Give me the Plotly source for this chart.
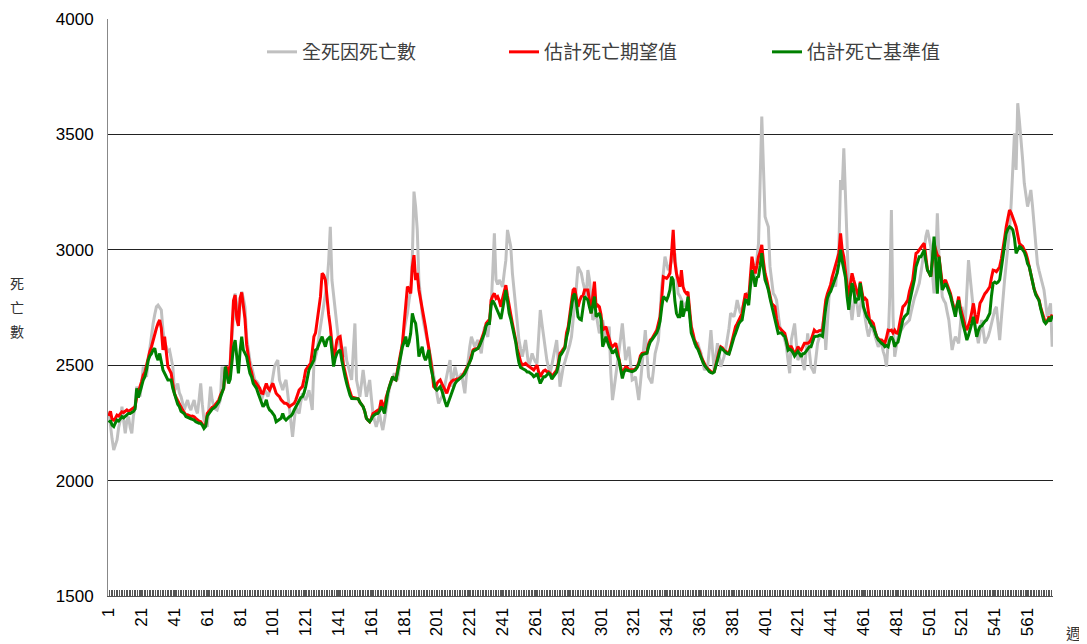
import plotly.graph_objects as go

# ---------------- data ----------------
all_cause = [
    2300, 2233, 2180, 2132, 2150, 2176, 2230, 2262, 2320, 2250,
    2205, 2260, 2277, 2230, 2205, 2280, 2320, 2407, 2380, 2364,
    2420, 2494, 2470, 2450, 2520, 2580, 2620, 2681, 2720, 2753,
    2760, 2750, 2739, 2652, 2600, 2580, 2560, 2566, 2520, 2494,
    2392, 2400, 2421, 2380, 2364, 2330, 2306, 2330, 2349, 2320,
    2306, 2330, 2349, 2310, 2291, 2350, 2421, 2330, 2262, 2250,
    2233, 2320, 2407, 2350, 2320, 2310, 2306, 2330, 2349, 2494,
    2470, 2465, 2450, 2436, 2520, 2609, 2700, 2811, 2760, 2681,
    2760, 2819, 2790, 2753, 2620, 2566, 2520, 2494, 2460, 2436,
    2430, 2421, 2380, 2349, 2370, 2392, 2380, 2364, 2390, 2407,
    2450, 2494, 2510, 2522, 2436, 2410, 2392, 2420, 2436, 2380,
    2320, 2250, 2190, 2260, 2320, 2300, 2291, 2340, 2378, 2360,
    2349, 2370, 2392, 2350, 2306, 2508, 2540, 2566, 2620, 2667,
    2710, 2753, 2800, 2855, 2950, 3100, 2869, 2800, 2753, 2680,
    2609, 2580, 2560, 2537, 2580, 2520, 2494, 2460, 2436, 2560,
    2681, 2436, 2400, 2363, 2420, 2479, 2420, 2363, 2400, 2436,
    2360, 2291, 2260, 2233, 2260, 2291, 2250, 2219, 2260, 2306,
    2360, 2400, 2421, 2440, 2465, 2450, 2436, 2490, 2551, 2600,
    2652, 2690, 2724, 2780, 2826, 2970, 3252, 3187, 3086, 2869,
    2790, 2724, 2680, 2638, 2610, 2580, 2540, 2493, 2450, 2407,
    2370, 2334, 2350, 2365, 2378, 2420, 2465, 2490, 2522, 2407,
    2450, 2493, 2460, 2436, 2450, 2465, 2420, 2378, 2460, 2537,
    2580, 2623, 2600, 2580, 2595, 2609, 2580, 2551, 2610, 2667,
    2640, 2623, 2690, 2753, 2900, 3071, 2869, 2850, 2869, 2855,
    2840, 2900, 2955, 3086, 3050, 3013, 2898, 2820, 2753, 2680,
    2609, 2570, 2537, 2570, 2609, 2550, 2493, 2520, 2551, 2530,
    2515, 2508, 2620, 2739, 2680, 2623, 2570, 2522, 2490, 2465,
    2500, 2537, 2570, 2609, 2510, 2407, 2450, 2493, 2515, 2537,
    2560, 2590, 2623, 2690, 2753, 2840, 2927, 2910, 2898, 2860,
    2826, 2800, 2912, 2869, 2780, 2696, 2710, 2725, 2680, 2638,
    2670, 2696, 2650, 2609, 2640, 2667, 2465, 2349, 2400, 2450,
    2500, 2551, 2620, 2681, 2600, 2522, 2550, 2580, 2510, 2436,
    2440, 2450, 2400, 2349, 2420, 2493, 2570, 2652, 2550, 2450,
    2435, 2421, 2480, 2551, 2580, 2609, 2720, 2840, 2900, 2970,
    2940, 2912, 2930, 2955, 2970, 2985, 2900, 2811, 2800, 2782,
    2765, 2753, 2770, 2782, 2720, 2667, 2630, 2595, 2595, 2595,
    2570, 2551, 2515, 2479, 2486, 2493, 2570, 2652, 2560, 2479,
    2540, 2595, 2540, 2493, 2515, 2537, 2570, 2609, 2660, 2725,
    2718, 2710, 2740, 2782, 2750, 2725, 2745, 2768, 2790, 2811,
    2811, 2840, 2869, 2880, 2898, 2960, 3028, 3300, 3577, 3360,
    3143, 3120, 3100, 2927, 2870, 2811, 2800, 2782, 2720, 2667,
    2650, 2638, 2610, 2580, 2520, 2465, 2609, 2650, 2681, 2600,
    2522, 2540, 2551, 2510, 2479, 2560, 2638, 2560, 2493, 2480,
    2465, 2530, 2595, 2620, 2638, 2670, 2710, 2566, 2700, 2797,
    2840, 2884, 2860, 2840, 2930, 3014, 3302, 3259, 3440, 3230,
    3000, 2826, 2760, 2696, 2760, 2826, 2770, 2710, 2750, 2797,
    2750, 2696, 2660, 2624, 2650, 2681, 2650, 2624, 2600, 2580,
    2590, 2595, 2560, 2537, 2493, 2595, 2800, 3172, 2710, 2537,
    2580, 2624, 2640, 2652, 2665, 2675, 2681, 2690, 2696, 2730,
    2768, 2790, 2811, 2830, 2855, 2900, 2941, 3000, 3057, 3086,
    3050, 3014, 2900, 2811, 2950, 3158, 2970, 2880, 2797, 2780,
    2768, 2730, 2696, 2630, 2566, 2600, 2624, 2610, 2595, 2670,
    2753, 2720, 2681, 2820, 2955, 2880, 2797, 2740, 2681, 2640,
    2595, 2640, 2696, 2650, 2595, 2610, 2624, 2650, 2681, 2710,
    2740, 2753, 2680, 2609, 2700, 2797, 2870, 2941, 3000, 3086,
    3200, 3331, 3505, 3346, 3635, 3560, 3490, 3390, 3288, 3230,
    3187, 3220, 3259, 3190, 3115, 3020, 2941, 2910, 2883, 2850,
    2826, 2770, 2710, 2740, 2768, 2580,
]

expected = [
    2280, 2300, 2265, 2262, 2270, 2284, 2280, 2290, 2298, 2295,
    2300, 2306, 2300, 2306, 2310, 2315, 2320, 2360, 2390, 2407,
    2430, 2457, 2470, 2500, 2537, 2560, 2580, 2609, 2640, 2660,
    2681, 2696, 2660, 2566, 2624, 2560, 2494, 2480, 2465, 2420,
    2378, 2360, 2345, 2335, 2320, 2305, 2295, 2284, 2285, 2280,
    2278, 2280, 2277, 2270, 2262, 2258, 2255, 2245, 2234, 2240,
    2291, 2300, 2310, 2318, 2320, 2330, 2340, 2349, 2370, 2385,
    2400, 2480, 2494, 2440, 2500, 2650, 2780, 2804, 2700, 2670,
    2790, 2815, 2760, 2700, 2590, 2540, 2494, 2470, 2436, 2430,
    2420, 2407, 2400, 2380, 2378, 2400, 2421, 2400, 2392, 2410,
    2421, 2400, 2378, 2370, 2364, 2350, 2340, 2335, 2335, 2330,
    2320, 2325, 2330, 2335, 2350, 2370, 2392, 2400, 2407, 2440,
    2479, 2490, 2500, 2508, 2560, 2624, 2640, 2700, 2760, 2797,
    2898, 2890, 2869, 2782, 2720, 2667, 2600, 2522, 2560, 2609,
    2620, 2624, 2570, 2500, 2470, 2430, 2407, 2385, 2363, 2360,
    2358, 2356, 2355, 2340, 2330, 2320, 2300, 2270, 2262, 2255,
    2270, 2291, 2295, 2300, 2305, 2310, 2349, 2330, 2310, 2360,
    2390, 2407, 2430, 2450, 2440, 2436, 2480, 2522, 2550, 2595,
    2680, 2753, 2840, 2830, 2811, 2927, 2977, 2869, 2900, 2826,
    2790, 2753, 2710, 2667, 2620, 2580, 2530, 2479, 2407, 2400,
    2421, 2430, 2436, 2420, 2407, 2390, 2378, 2400, 2421, 2430,
    2436, 2436, 2440, 2440, 2445, 2450, 2460, 2472, 2490, 2500,
    2515, 2540, 2566, 2570, 2570, 2573, 2590, 2610, 2624, 2650,
    2681, 2690, 2681, 2782, 2800, 2811, 2790, 2797, 2780, 2753,
    2790, 2826, 2847, 2800, 2753, 2720, 2681, 2650, 2609, 2570,
    2537, 2515, 2500, 2505, 2508, 2500, 2493, 2490, 2485, 2479,
    2490, 2500, 2470, 2450, 2465, 2475, 2479, 2472, 2472, 2465,
    2450, 2460, 2470, 2479, 2510, 2551, 2560, 2570, 2580, 2640,
    2667, 2720, 2780, 2826, 2833, 2800, 2753, 2780, 2797, 2800,
    2826, 2826, 2826, 2780, 2725, 2800, 2862, 2753, 2760, 2753,
    2720, 2652, 2660, 2667, 2640, 2609, 2590, 2580, 2590, 2595,
    2560, 2522, 2490, 2465, 2480, 2493, 2490, 2479, 2480, 2479,
    2480, 2485, 2493, 2510, 2540, 2551, 2552, 2553, 2555, 2590,
    2609, 2615, 2625, 2640, 2652, 2680, 2710, 2790, 2883, 2880,
    2876, 2885, 2898, 2985, 3086, 2950, 2898, 2870, 2840, 2912,
    2840, 2820, 2811, 2818, 2740, 2667, 2640, 2609, 2595, 2580,
    2560, 2537, 2520, 2505, 2493, 2485, 2478, 2472, 2470, 2472,
    2500, 2537, 2560, 2580, 2575, 2565, 2560, 2555, 2551, 2580,
    2609, 2640, 2667, 2680, 2696, 2710, 2725, 2770, 2811, 2800,
    2782, 2880, 2970, 2930, 2898, 2930, 2970, 2990, 3021, 2950,
    2898, 2870, 2840, 2800, 2768, 2760, 2753, 2700, 2667, 2660,
    2652, 2645, 2638, 2610, 2580, 2580, 2580, 2565, 2551, 2560,
    2580, 2570, 2566, 2580, 2595, 2595, 2595, 2600, 2609, 2630,
    2652, 2645, 2645, 2650, 2650, 2652, 2720, 2782, 2810, 2826,
    2850, 2884, 2910, 2930, 2960, 2985, 3071, 3000, 2970, 2900,
    2826, 2782, 2850, 2898, 2870, 2840, 2820, 2797, 2862, 2820,
    2782, 2790, 2782, 2730, 2681, 2690, 2681, 2650, 2624, 2615,
    2610, 2609, 2600, 2595, 2620, 2652, 2650, 2652, 2640, 2652,
    2640, 2638, 2680, 2720, 2753, 2760, 2770, 2782, 2820, 2850,
    2869, 2930, 2985, 2990, 3000, 3014, 3020, 3028, 2970, 2912,
    2900, 2884, 2950, 3028, 3000, 2977, 2970, 2900, 2855, 2860,
    2869, 2850, 2830, 2811, 2780, 2750, 2725, 2760, 2797, 2750,
    2720, 2696, 2670, 2652, 2670, 2696, 2730, 2768, 2720, 2681,
    2720, 2768, 2780, 2797, 2810, 2818, 2830, 2840, 2880, 2912,
    2910, 2905, 2915, 2927, 2960, 2999, 3050, 3100, 3140, 3172,
    3160, 3144, 3120, 3100, 3060, 3028, 3020, 3014, 3000, 2985,
    2960, 2927, 2890, 2855, 2830, 2811, 2795, 2782, 2750, 2725,
    2700, 2681, 2690, 2710, 2700, 2720,
]

baseline = [
    2251, 2260, 2240, 2234, 2250, 2262, 2258, 2270, 2277, 2272,
    2280, 2285, 2291, 2291, 2295, 2300, 2310, 2400, 2360, 2392,
    2410, 2436, 2450, 2480, 2522, 2540, 2550, 2566, 2573, 2540,
    2522, 2551, 2510, 2479, 2465, 2450, 2436, 2436, 2436, 2400,
    2378, 2350, 2330, 2320, 2300, 2295, 2290, 2277, 2275, 2270,
    2268, 2265, 2262, 2255, 2250, 2248, 2248, 2240, 2226, 2235,
    2280, 2291, 2300, 2310, 2315, 2320, 2330, 2340, 2360, 2380,
    2400, 2494, 2460, 2421, 2440, 2520, 2580, 2609, 2537, 2465,
    2560, 2624, 2566, 2550, 2537, 2500, 2465, 2450, 2421, 2410,
    2400, 2378, 2360, 2340, 2320, 2330, 2350, 2320, 2306, 2300,
    2290, 2280, 2255, 2260, 2262, 2270, 2291, 2270, 2262, 2270,
    2277, 2280, 2290, 2306, 2320, 2330, 2349, 2360, 2364, 2380,
    2407, 2450, 2480, 2494, 2510, 2522, 2566, 2570, 2590, 2609,
    2624, 2600, 2580, 2609, 2615, 2624, 2560, 2494, 2530, 2551,
    2560, 2566, 2520, 2480, 2450, 2420, 2392, 2370, 2356, 2355,
    2355, 2356, 2355, 2340, 2330, 2320, 2300, 2270, 2262, 2255,
    2265, 2280, 2285, 2290, 2291, 2300, 2320, 2310, 2291, 2340,
    2380, 2407, 2430, 2450, 2440, 2436, 2470, 2510, 2540, 2580,
    2600, 2624, 2580, 2600, 2638, 2725, 2696, 2681, 2624, 2537,
    2560, 2580, 2540, 2522, 2540, 2566, 2500, 2465, 2420, 2400,
    2392, 2400, 2407, 2390, 2360, 2340, 2320, 2340, 2364, 2380,
    2400, 2420, 2430, 2436, 2440, 2445, 2455, 2465, 2480, 2495,
    2510, 2530, 2560, 2565, 2570, 2573, 2585, 2600, 2620, 2640,
    2670, 2681, 2681, 2760, 2780, 2768, 2750, 2739, 2720, 2700,
    2740, 2790, 2826, 2780, 2725, 2700, 2670, 2640, 2600, 2550,
    2510, 2490, 2486, 2480, 2478, 2470, 2470, 2465, 2460, 2450,
    2455, 2465, 2440, 2421, 2435, 2450, 2450, 2460, 2465, 2460,
    2440, 2450, 2460, 2470, 2500, 2540, 2550, 2560, 2575, 2620,
    2650, 2700, 2760, 2800, 2810, 2770, 2710, 2700, 2696, 2740,
    2797, 2790, 2782, 2750, 2725, 2760, 2797, 2710, 2720, 2725,
    2700, 2580, 2600, 2623, 2600, 2580, 2570, 2551, 2560, 2566,
    2540, 2522, 2480, 2443, 2470, 2480, 2478, 2475, 2474, 2472,
    2475, 2480, 2490, 2505, 2530, 2545, 2548, 2550, 2552, 2580,
    2600, 2610, 2620, 2630, 2640, 2660, 2690, 2750, 2797, 2790,
    2782, 2800, 2826, 2884, 2870, 2780, 2725, 2710, 2710, 2780,
    2710, 2740, 2740, 2797, 2700, 2640, 2620, 2595, 2580, 2570,
    2550, 2530, 2515, 2500, 2490, 2480, 2472, 2468, 2466, 2470,
    2495, 2530, 2555, 2575, 2570, 2560, 2555, 2550, 2548, 2570,
    2600, 2620, 2638, 2660, 2680, 2690, 2696, 2740, 2782, 2780,
    2760, 2840, 2912, 2880, 2840, 2880, 2884, 2930, 2985, 2920,
    2870, 2850, 2826, 2790, 2760, 2730, 2696, 2680, 2638, 2640,
    2640, 2630, 2625, 2600, 2565, 2570, 2565, 2555, 2540, 2550,
    2560, 2550, 2537, 2550, 2551, 2560, 2570, 2580, 2580, 2600,
    2623, 2625, 2625, 2630, 2630, 2625, 2690, 2750, 2790, 2810,
    2820, 2840, 2860, 2884, 2900, 2940, 3000, 2950, 2912, 2880,
    2797, 2740, 2800, 2855, 2830, 2768, 2790, 2782, 2855, 2800,
    2753, 2730, 2710, 2700, 2681, 2670, 2665, 2640, 2624, 2610,
    2600, 2595, 2590, 2580, 2585, 2580, 2610, 2624, 2610, 2580,
    2595, 2600, 2630, 2670, 2696, 2710, 2720, 2725, 2770, 2800,
    2826, 2870, 2926, 2950, 2970, 2970, 2985, 3000, 2950, 2912,
    2900, 2884, 2960, 3057, 2950, 2810, 2970, 2880, 2826, 2840,
    2855, 2840, 2820, 2800, 2770, 2740, 2710, 2760, 2782, 2730,
    2690, 2667, 2640, 2609, 2630, 2652, 2680, 2710, 2670, 2623,
    2650, 2667, 2670, 2681, 2690, 2696, 2710, 2725, 2800, 2855,
    2860, 2855, 2860, 2870, 2920, 2970, 3030, 3071, 3090, 3100,
    3095, 3086, 3050, 2985, 3000, 3014, 3010, 3000, 2990, 2970,
    2940, 2927, 2890, 2855, 2830, 2805, 2790, 2780, 2745, 2720,
    2690, 2681, 2690, 2700, 2690, 2715,
]

weeks = list(range(1, len(expected) + 1))
tick_weeks = list(range(1, 562, 20))
tick_labels = [str(w) for w in tick_weeks]
series_names = ["全死因死亡數", "估計死亡期望值", "估計死亡基準值"]
series_colors = ["#C0C0C0", "#FF0000", "#008000"]

assert len(all_cause) == len(expected) == len(baseline), (
    len(all_cause), len(expected), len(baseline))

# ---------------- layout geometry ----------------
# The page body adds an 8 px margin, so the figure is drawn 8 px in.
OFF = 8
W, H = 1087 - OFF, 644 - OFF
# plot area in reference-picture pixels
L, R, T, B = 108, 1053, 19, 596
pw, ph = R - L, B - T

def px(xpix):
    return (xpix - L) / pw

def py(ypix):
    return 1 - (ypix - T) / ph

# ---------------- figure ----------------
fig = go.Figure()
legend_ids = ["legend", "legend2", "legend3"]
for name, vals, col, lg in zip(series_names, [all_cause, expected, baseline],
                               series_colors, legend_ids):
    fig.add_trace(go.Scatter(
        x=weeks, y=vals, mode="lines", name=name,
        line=dict(color=col, width=3), legend=lg,
    ))

legend_text_x = [303, 545, 808]
legend_common = dict(
    orientation="h", xanchor="left", yanchor="middle", y=py(52),
    font=dict(family="Noto Sans CJK TC", size=19, color="#404040"),
    bgcolor="rgba(0,0,0,0)", itemwidth=30,
)

fig.update_layout(
    width=W, height=H,
    margin=dict(l=L - OFF, r=W - (R - OFF), t=T - OFF, b=H - (B - OFF),
                autoexpand=False),
    paper_bgcolor="white", plot_bgcolor="white",
    showlegend=True,
    legend=dict(x=px(legend_text_x[0] - 41), **legend_common),
    legend2=dict(x=px(legend_text_x[1] - 41), **legend_common),
    legend3=dict(x=px(legend_text_x[2] - 41), **legend_common),
    font=dict(family="Liberation Sans, Arial", size=17, color="black"),
)

n = len(weeks)
fig.update_xaxes(
    range=[0.5, n + 0.5],
    tickmode="array", tickvals=tick_weeks, ticktext=tick_labels,
    tickangle=-90, tickfont=dict(size=17, family="Liberation Sans, Arial"),
    ticks="inside", ticklen=6, tickcolor="#555", tickwidth=1,
    minor=dict(tickmode="linear", tick0=0.5, dtick=1, ticks="inside",
               ticklen=6, tickcolor="#555", tickwidth=1, showgrid=False),
    showline=True, linecolor="#555", linewidth=1,
    showgrid=False, zeroline=False, automargin=False,
    ticklabelstandoff=4,
)
fig.update_yaxes(
    range=[1500, 4000], tickmode="linear", tick0=1500, dtick=500,
    showgrid=True, gridcolor="#222", gridwidth=1,
    showline=True, linecolor="#888", linewidth=1,
    ticks="", zeroline=False, automargin=False,
    tickfont=dict(size=17, family="Liberation Sans, Arial"),
    ticklabelstandoff=10,
)

# vertical stacked y-axis title and x-axis unit
for i, ch in enumerate(["死", "亡", "數"]):
    fig.add_annotation(
        text=ch, xref="paper", yref="paper",
        x=px(17), y=py(283 + i * 24),
        showarrow=False, xanchor="center", yanchor="middle",
        font=dict(family="Noto Sans CJK TC", size=14, color="#333"),
    )
fig.add_annotation(
    text="週", xref="paper", yref="paper",
    x=px(1075), y=py(632),
    showarrow=False, xanchor="right", yanchor="middle", xshift=8,
    font=dict(family="Noto Sans CJK TC", size=15, color="#333"),
)

fig.write_html("out.html")
